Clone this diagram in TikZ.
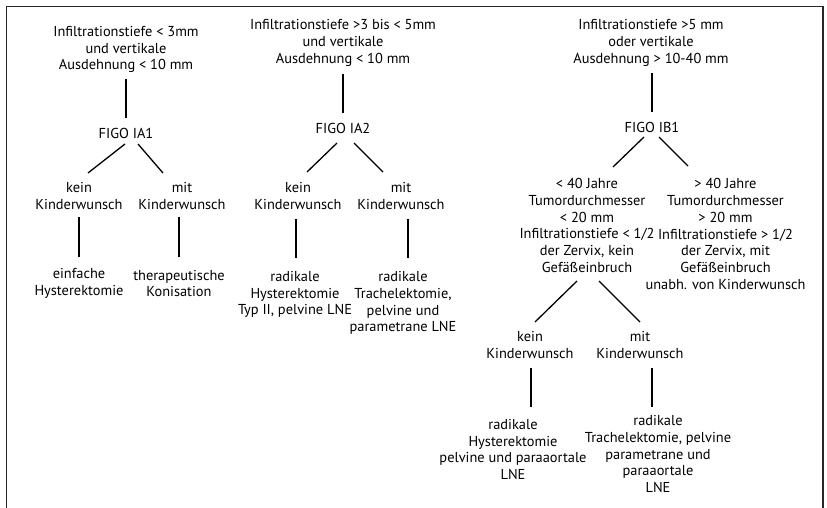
\documentclass[tikz,border=0pt]{standalone}
\usepackage{fontspec}
\setmainfont{PT Sans}
\usetikzlibrary{calc}
\tikzset{
  txt/.style={align=center, inner sep=0pt, font=\fontsize{14.4}{16.8}\selectfont},
  conn/.style={line width=1.3pt, black},
  frame/.style={line width=1.8pt, black!85}
}
\begin{document}
\begin{tikzpicture}[x=1pt,y=-1pt]
\useasboundingbox (0,0) rectangle (827,508);
\draw[frame] (6.5,508) -- (6.5,6.5) -- (823,6.5) -- (823,508);

% column 1
\node[txt] (t1) at (126,49.5) {Infiltrationstiefe < 3mm\\und vertikale\\Ausdehnung < 10 mm};
\node[txt] (f1) at (126,133) {FIGO IA1};
\node[txt] (k1) at (79,196) {kein\\Kinderwunsch};
\node[txt] (m1) at (182,196) {mit\\Kinderwunsch};
\node[txt] (l1a) at (79,283.5) {einfache\\Hysterektomie};
\node[txt] (l1b) at (179,283.5) {therapeutische\\Konisation};

% column 2
\node[txt] (t2) at (343,43) {Infiltrationstiefe >3 bis < 5mm\\und vertikale\\Ausdehnung < 10 mm};
\node[txt] (f2) at (343,128) {FIGO IA2};
\node[txt] (k2) at (298,196) {kein\\Kinderwunsch};
\node[txt] (m2) at (401,196) {mit\\Kinderwunsch};
\node[txt] (l2a) at (295,294.5) {radikale\\Hysterektomie\\Typ II, pelvine LNE};
\node[txt] (l2b) at (403,303) {radikale\\Trachelektomie,\\pelvine und\\parametrane LNE};

% column 3
\node[txt] (t3) at (651,43) {Infiltrationstiefe >5 mm\\oder vertikale\\Ausdehnung > 10-40 mm};
\node[txt] (f3) at (652,127) {FIGO IB1};
\node[txt] (b3a) at (587,225.5) {< 40 Jahre\\Tumordurchmesser\\< 20 mm\\Infiltrationstiefe < 1/2\\der Zervix, kein\\Gefäßeinbruch};
\node[txt] (b3b) at (725.5,234) {> 40 Jahre\\Tumordurchmesser\\> 20 mm\\Infiltrationstiefe > 1/2\\der Zervix, mit\\Gefäßeinbruch\\unabh. von Kinderwunsch};
\node[txt] (k3) at (530,345) {kein\\Kinderwunsch};
\node[txt] (m3) at (640,345) {mit\\Kinderwunsch};
\node[txt] (l3a) at (513,449.5) {radikale\\Hysterektomie\\pelvine und paraaortale\\LNE};
\node[txt] (l3b) at (658,454) {radikale\\Trachelektomie, pelvine\\parametrane und\\paraaortale\\LNE};

% connectors column 1
\draw[conn] ($(t1.center)+(0,29.5)$) -- ($(f1.center)+(0,-15)$);
\draw[conn] ($(f1.center)+(-1,11)$) -- ($(k1.center)+(9,-23)$);
\draw[conn] ($(f1.center)+(12,11)$) -- ($(m1.center)+(-19,-23)$);
\draw[conn] ($(k1.center)+(0,21)$) -- ($(l1a.center)+(0,-26.5)$);
\draw[conn] ($(m1.center)+(-3,21)$) -- ($(l1b.center)+(0,-26.5)$);

% connectors column 2
\draw[conn] ($(t2.center)+(0,31)$) -- ($(f2.center)+(0,-15)$);
\draw[conn] ($(f2.center)+(-6,15)$) -- ($(k2.center)+(9,-24)$);
\draw[conn] ($(f2.center)+(11,15)$) -- ($(m2.center)+(-18,-24)$);
\draw[conn] ($(k2.center)+(-2,23)$) -- ($(l2a.center)+(1,-36.5)$);
\draw[conn] ($(m2.center)+(7,23)$) -- ($(l2b.center)+(5,-45)$);

% connectors column 3
\draw[conn] ($(t3.center)+(1,30)$) -- ($(f3.center)+(0,-15)$);
\draw[conn] ($(f3.center)+(-8,10)$) -- ($(b3a.center)+(26,-58.5)$);
\draw[conn] ($(f3.center)+(7,10)$) -- ($(b3b.center)+(-37.5,-68)$);
\draw[conn] ($(b3a.center)+(-10,55.5)$) -- ($(k3.center)+(5,-23)$);
\draw[conn] ($(b3a.center)+(12,55.5)$) -- ($(m3.center)+(0,-23)$);
\draw[conn] ($(k3.center)+(1,23)$) -- ($(l3a.center)+(18,-42.5)$);
\draw[conn] ($(m3.center)+(12,23)$) -- ($(l3b.center)+(-6,-47)$);
\end{tikzpicture}
\end{document}
